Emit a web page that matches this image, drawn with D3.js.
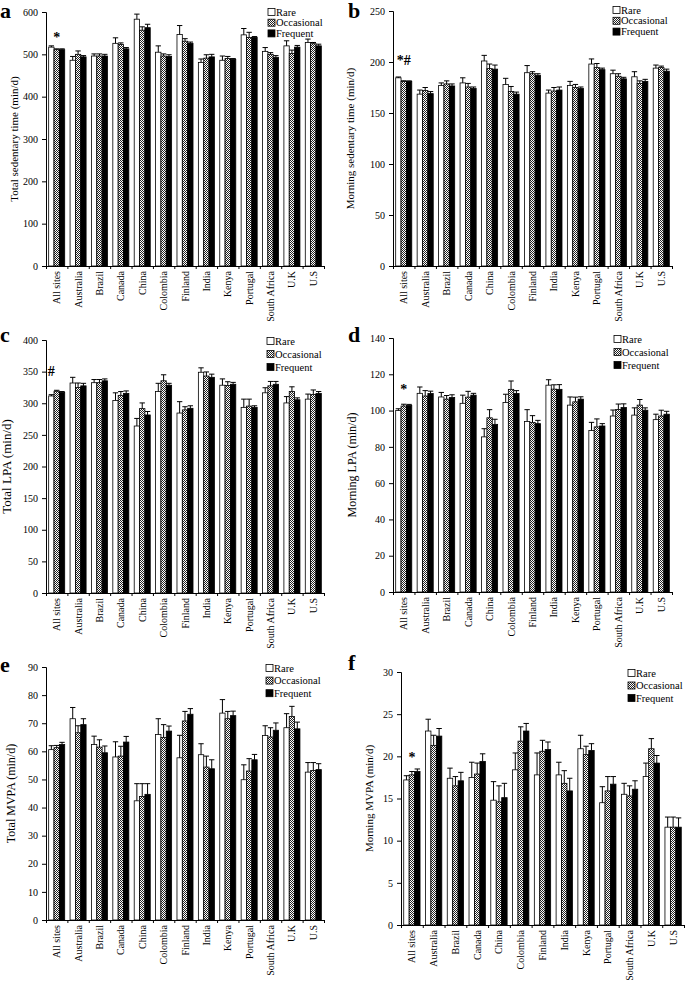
<!DOCTYPE html>
<html>
<head>
<meta charset="utf-8">
<script src="https://cdn.jsdelivr.net/npm/d3@7"></script>
<style>
  body { margin: 0; background: #fff; }
  svg { display: block; font-family: "Liberation Serif", "Times New Roman", serif; }
</style>
</head>
<body>
<svg id="chart" width="685" height="981"></svg>
<script>
// categories and groups
const sites = ["All sites", "Australia", "Brazil", "Canada", "China", "Colombia", "Finland",
  "India", "Kenya", "Portugal", "South Africa", "U.K", "U.S"];
const groups = ["Rare", "Occasional", "Frequent"];

// a - total sedentary time (min/d), mean and upper SE
const sedTotalRare = [517, 486, 496, 526, 583, 505, 547, 481, 486, 546, 507, 520, 528];
const sedTotalOcc  = [511, 500, 496, 523, 557, 496, 531, 491, 490, 540, 500, 502, 525];
const sedTotalFreq = [511, 494, 496, 513, 563, 495, 526, 494, 488, 540, 493, 517, 520];
const sedTotalRareSE = [3, 9, 5, 13, 12, 15, 21, 8, 10, 15, 9, 12, 8];
const sedTotalOccSE  = [2, 8, 5, 4, 8, 5, 6, 8, 5, 12, 4, 8, 3];
const sedTotalFreqSE = [2, 3, 4, 3, 8, 4, 3, 6, 2, 2, 4, 4, 4];

// b - morning sedentary time
const sedMornRare = [184.5, 168.5, 177, 179.5, 201, 178, 189.5, 169.5, 177, 198, 188.5, 185.5, 194];
const sedMornOcc  = [181, 172, 178.5, 175.5, 193.5, 171, 188.5, 171.5, 175, 194.5, 186, 179, 194.5];
const sedMornFreq = [181, 169, 176.5, 174, 193, 168.5, 187, 172.5, 174, 192.5, 183.5, 181, 191];
const sedMornRareSE = [0.8, 4, 2.5, 5, 5.5, 6, 7, 3, 4, 5, 3.5, 5, 3];
const sedMornOccSE  = [0.6, 3, 3, 3.5, 4.5, 5, 2, 3.5, 3, 4, 2.5, 2.5, 1.5];
const sedMornFreqSE = [0.5, 2, 2, 1.5, 4, 2, 1.5, 3, 1.5, 1.5, 1.5, 2, 2];

// c - total LPA
const lpaTotalRare = [311.5, 332, 332.5, 304.5, 264, 318.5, 284.5, 349, 328.5, 293.5, 316.5, 300.5, 306.5];
const lpaTotalOcc  = [319, 325, 332.5, 312.5, 291.5, 335.5, 289.5, 343, 328, 295.5, 327.5, 318.5, 314];
const lpaTotalFreq = [317, 327.5, 335.5, 315.5, 281.5, 328.5, 292, 341, 330, 293.5, 330, 305.5, 315.5];
const lpaTotalRareSE = [2, 9, 5, 12, 12, 13, 18, 7, 10, 13, 8, 10, 8];
const lpaTotalOccSE  = [1.5, 7, 5, 6, 9, 9.5, 5, 6.5, 6, 11, 7, 7.5, 7];
const lpaTotalFreqSE = [1.5, 4, 3, 4, 5.5, 3, 4, 5, 3, 2.5, 4.5, 3, 3];

// d - morning LPA
const lpaMornRare = [100, 109.5, 107.5, 104, 85.5, 104.5, 94, 114, 103, 89, 97, 97.5, 95];
const lpaMornOcc  = [102.5, 108, 106.3, 107.4, 96, 111.7, 93.5, 111.8, 104.8, 91, 100.6, 103, 97];
const lpaMornFreq = [102.8, 109.4, 107.2, 108.5, 92.4, 109.4, 92.8, 111.7, 106.3, 91.5, 101.7, 100.2, 98];
const lpaMornRareSE = [1, 3.5, 2.5, 4.5, 4.5, 4.5, 6.5, 3, 4.5, 4.5, 3.3, 4, 3];
const lpaMornOccSE  = [1, 3, 2, 3.2, 4.5, 4.6, 3.7, 2.4, 2.6, 4.4, 3, 3.1, 3.2];
const lpaMornFreqSE = [0.6, 1.3, 1.5, 1, 2.8, 1.6, 1.8, 2.6, 1.3, 1.3, 2, 1.3, 1.6];

// e - total MVPA
const mvpaTotalRare = [60.6, 71.6, 62.4, 58, 42.4, 66, 57.7, 58.8, 73.6, 49.9, 65.6, 68.4, 52.6];
const mvpaTotalOcc  = [61.3, 66.6, 61.5, 58.3, 43.9, 64.9, 70.8, 54.4, 71.6, 53, 65.1, 72.4, 53.2];
const mvpaTotalFreq = [62.4, 69.5, 59.5, 63.3, 44.7, 67.2, 73.2, 53.8, 72.7, 57, 67.5, 68, 53.5];
const mvpaTotalRareSE = [1.4, 4, 3, 5.4, 6.1, 5.6, 8, 3.9, 4.8, 5.3, 3.5, 5, 3.4];
const mvpaTotalOccSE  = [0.8, 2.5, 2.6, 3.5, 4.6, 4.6, 3.4, 3.9, 2.6, 4.4, 3.3, 3.6, 2.8];
const mvpaTotalFreqSE = [0.8, 2.1, 2.4, 2, 3.8, 1.8, 2, 3.2, 1.6, 1.9, 2.6, 2.4, 2.1];

// f - morning MVPA
const mvpaMornRare = [17.2, 23, 17.4, 17.5, 14.8, 18.4, 17.8, 17.8, 20.9, 14.5, 15.5, 17.6, 11.6];
const mvpaMornOcc  = [17.8, 21.3, 16.5, 17.9, 14.6, 21.8, 20.6, 16.8, 20.2, 15.9, 15.3, 20.9, 11.6];
const mvpaMornFreq = [18.2, 22.4, 17.1, 19.4, 15.1, 23, 20.8, 15.9, 20.7, 16.7, 16.1, 19.2, 11.6];
const mvpaMornRareSE = [0.5, 1.4, 1.2, 1.8, 2.2, 2, 2.6, 1.5, 1.6, 1.9, 1.3, 1.6, 1.2];
const mvpaMornOccSE  = [0.4, 1.2, 1.1, 1.3, 1.9, 1.7, 1.3, 1.5, 1, 1.7, 1.2, 1.2, 1.2];
const mvpaMornFreqSE = [0.3, 0.9, 1, 0.9, 1.7, 0.9, 0.9, 1.5, 0.8, 0.9, 1, 0.9, 1.1];

// panel layout (pixel boxes)
const panels = [
  { letter: "a", lx: 0, ly: 18, title: "Total sedentary time (min/d)", tx: 14, tsize: 11,
    max: 600, step: 100, x0: 46, x1: 324, top: 12, bot: 266,
    means: [sedTotalRare, sedTotalOcc, sedTotalFreq], se: [sedTotalRareSE, sedTotalOccSE, sedTotalFreqSE],
    legend: [268, 12, 10.7], note: { text: "*", group: 1, y: 42 } },
  { letter: "b", lx: 348, ly: 18, title: "Morning sedentary time (min/d)", tx: 350, tsize: 11,
    max: 250, step: 50, x0: 393, x1: 672, top: 11, bot: 266,
    means: [sedMornRare, sedMornOcc, sedMornFreq], se: [sedMornRareSE, sedMornOccSE, sedMornFreqSE],
    legend: [613, 10, 10.8], note: { text: "*#", group: 1, y: 65 } },
  { letter: "c", lx: 0, ly: 342, title: "Total LPA (min/d)", tx: 6, tsize: 13,
    max: 400, step: 50, x0: 46, x1: 324, top: 340, bot: 593,
    means: [lpaTotalRare, lpaTotalOcc, lpaTotalFreq], se: [lpaTotalRareSE, lpaTotalOccSE, lpaTotalFreqSE],
    legend: [267, 341, 13], note: { text: "#", group: 0, y: 376 } },
  { letter: "d", lx: 348, ly: 342, title: "Morning LPA (min/d)", tx: 352, tsize: 12,
    max: 140, step: 20, x0: 393, x1: 672, top: 338, bot: 592,
    means: [lpaMornRare, lpaMornOcc, lpaMornFreq], se: [lpaMornRareSE, lpaMornOccSE, lpaMornFreqSE],
    legend: [614, 339, 13], note: { text: "*", group: 1, y: 394 } },
  { letter: "e", lx: 0, ly: 672, title: "Total MVPA (min/d)", tx: 11, tsize: 12,
    max: 90, step: 10, x0: 46, x1: 324, top: 667, bot: 920,
    means: [mvpaTotalRare, mvpaTotalOcc, mvpaTotalFreq], se: [mvpaTotalRareSE, mvpaTotalOccSE, mvpaTotalFreqSE],
    legend: [266, 668, 12.6], note: null },
  { letter: "f", lx: 348, ly: 670, title: "Morning MVPA (min/d)", tx: 369, tsize: 11,
    max: 30, step: 5, x0: 401, x1: 684, top: 672, bot: 925,
    means: [mvpaMornRare, mvpaMornOcc, mvpaMornFreq], se: [mvpaMornRareSE, mvpaMornOccSE, mvpaMornFreqSE],
    legend: [628, 673, 12.5], note: { text: "*", group: 1, y: 762 } }
];

const svg = d3.select("#chart");

// cross-hatch for the "Occasional" bars
const pat = svg.append("defs").append("pattern")
  .attr("id", "hatch").attr("patternUnits", "userSpaceOnUse")
  .attr("width", 2).attr("height", 2);
pat.append("rect").attr("width", 2).attr("height", 2).attr("fill", "#fff");
pat.append("rect").attr("width", 1).attr("height", 1).attr("fill", "#222");
pat.append("rect").attr("x", 1).attr("y", 1).attr("width", 1).attr("height", 1).attr("fill", "#222");

const fills = ["#fff", "url(#hatch)", "#000"];

panels.forEach(p => {
  const g = svg.append("g").attr("fill", "#000");

  const x = d3.scaleBand().domain(sites).range([p.x0, p.x1])
    .paddingInner(0.25).paddingOuter(0.125);
  const xb = d3.scaleBand().domain(groups).range([0, x.bandwidth()]);
  const y = d3.scaleLinear().domain([0, p.max]).range([p.bot, p.top]);
  const bw = xb.bandwidth();

  // bars
  groups.forEach((grp, gi) => {
    const rows = sites.map((s, i) => ({ s, v: p.means[gi][i], e: p.se[gi][i] }));
    const cx = d => x(d.s) + xb(grp) + bw / 2;

    g.append("g").selectAll("rect").data(rows).join("rect")
      .attr("x", d => x(d.s) + xb(grp))
      .attr("y", d => y(d.v))
      .attr("width", bw)
      .attr("height", d => y(0) - y(d.v))
      .attr("fill", fills[gi])
      .attr("stroke", "#000").attr("stroke-width", 0.8);

    // upper error bars, T-shaped
    const eb = g.append("g").attr("stroke", "#000").attr("stroke-width", 1);
    eb.selectAll("line.v").data(rows).join("line").attr("class", "v")
      .attr("x1", cx).attr("x2", cx)
      .attr("y1", d => y(d.v)).attr("y2", d => y(d.v + d.e));
    eb.selectAll("line.c").data(rows).join("line").attr("class", "c")
      .attr("x1", d => cx(d) - bw / 2).attr("x2", d => cx(d) + bw / 2)
      .attr("y1", d => y(d.v + d.e)).attr("y2", d => y(d.v + d.e));
  });

  // y axis
  const ya = g.append("g").attr("transform", `translate(${p.x0},0)`)
    .call(d3.axisLeft(y).tickValues(d3.range(0, p.max + 1, p.step)).tickSize(4).tickPadding(4));
  ya.selectAll("text").attr("font-size", 10).attr("font-family", "Liberation Serif").attr("fill", "#000");
  ya.selectAll("line, path").attr("stroke", "#000");

  // x axis: ticks between categories
  const xt = d3.scaleLinear().domain([0, sites.length]).range([p.x0, p.x1]);
  const xa = g.append("g").attr("transform", `translate(0,${p.bot})`)
    .call(d3.axisBottom(xt).ticks(sites.length).tickSize(3).tickFormat(""));
  xa.selectAll("line, path").attr("stroke", "#000");

  g.append("g").selectAll("text").data(sites).join("text")
    .attr("transform", d => `translate(${x(d) + x.bandwidth() / 2},${p.bot + 5}) rotate(-90)`)
    .attr("dy", "0.35em")
    .attr("text-anchor", "end")
    .attr("font-size", 10)
    .text(d => d);

  // axis title
  g.append("text")
    .attr("transform", `translate(${p.tx},${(p.top + p.bot) / 2}) rotate(-90)`)
    .attr("dy", "0.35em").attr("text-anchor", "middle")
    .attr("font-size", p.tsize)
    .text(p.title);

  // panel letter
  g.append("text").attr("x", p.lx).attr("y", p.ly)
    .attr("font-size", 22).attr("font-weight", "bold")
    .text(p.letter);

  // legend
  const lg = g.append("g");
  groups.forEach((grp, gi) => {
    const cy = p.legend[1] + gi * p.legend[2];
    lg.append("rect").attr("x", p.legend[0]).attr("y", cy - 3.5)
      .attr("width", 7).attr("height", 7)
      .attr("fill", fills[gi]).attr("stroke", "#000").attr("stroke-width", 0.8);
    lg.append("text").attr("x", p.legend[0] + 8).attr("y", cy)
      .attr("dy", "0.35em").attr("font-size", 10.5).text(grp);
  });

  // significance mark on "All sites"
  if (p.note) {
    g.append("text")
      .attr("x", x(sites[0]) + xb(groups[p.note.group]) + bw / 2)
      .attr("y", p.note.y)
      .attr("text-anchor", "middle")
      .attr("fill", "#000")
      .attr("font-size", 14).attr("font-weight", "bold")
      .text(p.note.text);
  }
});
</script>
</body>
</html>
